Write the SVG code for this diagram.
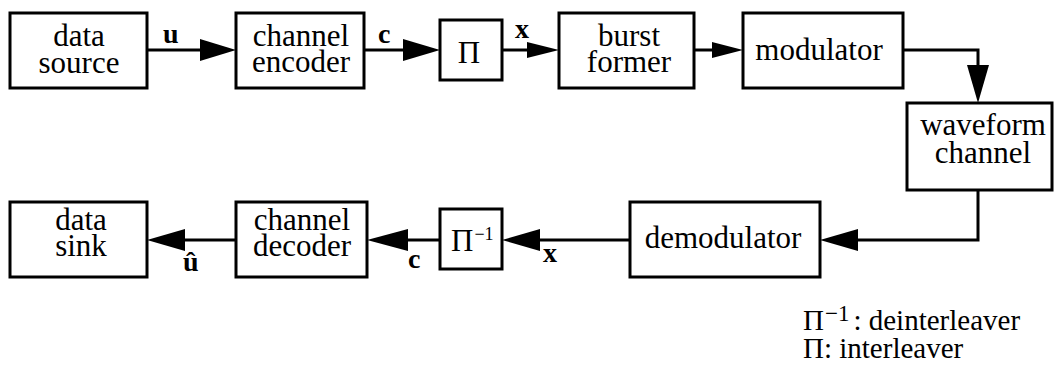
<svg xmlns="http://www.w3.org/2000/svg" width="1054" height="368" viewBox="0 0 1054 368">
  <style>
    .box { fill: #fff; stroke: #000; stroke-width: 3; }
    .wire { fill: none; stroke: #000; stroke-width: 3; }
    .head { fill: #000; stroke: none; }
    text { font-family: 'Liberation Serif', 'DejaVu Serif', serif; fill: #000; }
    .lbl { font-size: 31px; text-anchor: middle; }
    .sym { font-size: 31px; text-anchor: start; }
    .sig { font-size: 28px; font-weight: bold; }
    .key { font-size: 29px; }
  </style>
  <rect width="1054" height="368" fill="#fff"/>

  <!-- connectors -->
  <g id="connectors">
    <line class="wire" x1="147" y1="50" x2="202" y2="50"/>
    <polygon class="head" points="200,39 236,50 200,61"/>
    <line class="wire" x1="364" y1="50" x2="405" y2="50"/>
    <polygon class="head" points="403,39 440,50 403,61"/>
    <line class="wire" x1="502" y1="50" x2="529" y2="50"/>
    <polygon class="head" points="527,42 559,50 527,58"/>
    <line class="wire" x1="694" y1="50" x2="714" y2="50"/>
    <polygon class="head" points="712,42 743,50 712,58"/>
    <path class="wire" d="M903,50 H978 V67"/>
    <polygon class="head" points="967,65 978,103 989,65"/>
    <path class="wire" d="M978,190 V240 H856"/>
    <polygon class="head" points="858,229 820,240 858,251"/>
    <line class="wire" x1="630" y1="240" x2="538" y2="240"/>
    <polygon class="head" points="540,229 502,240 540,251"/>
    <line class="wire" x1="440" y1="240" x2="406" y2="240"/>
    <polygon class="head" points="408,229 367,240 408,251"/>
    <line class="wire" x1="236" y1="240" x2="183" y2="240"/>
    <polygon class="head" points="185,229 147,240 185,251"/>
    <!-- signal labels -->
    <text class="sig" x="163" y="43">u</text>
    <text class="sig" x="378" y="43">c</text>
    <text class="sig" x="515" y="38">x</text>
    <text class="sig" x="183" y="271">û</text>
    <text class="sig" x="408" y="268">c</text>
    <text class="sig" x="543" y="262">x</text>
  </g>

  <g id="data-source">
    <rect class="box" x="10" y="13" width="137" height="75"/>
    <text class="lbl" x="79" y="46">data</text>
    <text class="lbl" x="79" y="73">source</text>
  </g>
  <g id="channel-encoder">
    <rect class="box" x="236" y="13" width="128" height="75"/>
    <text class="lbl" x="301" y="46">channel</text>
    <text class="lbl" x="301" y="72">encoder</text>
  </g>
  <g id="interleaver">
    <rect class="box" x="440" y="20" width="62" height="60"/>
    <text class="lbl" x="469" y="63">Π</text>
  </g>
  <g id="burst-former">
    <rect class="box" x="559" y="13" width="135" height="75"/>
    <text class="lbl" x="629" y="46">burst</text>
    <text class="lbl" x="629" y="72">former</text>
  </g>
  <g id="modulator">
    <rect class="box" x="743" y="13" width="160" height="75"/>
    <text class="lbl" x="819" y="60">modulator</text>
  </g>
  <g id="waveform-channel">
    <rect class="box" x="907" y="103" width="145" height="87"/>
    <text class="lbl" x="983" y="135">waveform</text>
    <text class="lbl" x="983" y="163">channel</text>
  </g>
  <g id="demodulator">
    <rect class="box" x="630" y="202" width="190" height="75"/>
    <text class="lbl" x="723" y="248">demodulator</text>
  </g>
  <g id="deinterleaver">
    <rect class="box" x="440" y="209" width="62" height="60"/>
    <text class="sym" x="451" y="251">Π<tspan font-size="18" dx="1" dy="-11">−1</tspan></text>
  </g>
  <g id="channel-decoder">
    <rect class="box" x="236" y="202" width="131" height="75"/>
    <text class="lbl" x="302" y="230">channel</text>
    <text class="lbl" x="302" y="256">decoder</text>
  </g>
  <g id="data-sink">
    <rect class="box" x="10" y="202" width="137" height="75"/>
    <text class="lbl" x="81" y="230">data</text>
    <text class="lbl" x="81" y="256">sink</text>
  </g>

  <!-- legend -->
  <g id="legend">
    <text class="key" x="803" y="330">Π<tspan font-size="23" dx="1" dy="-9">−1</tspan><tspan dx="4" dy="9">: deinterleaver</tspan></text>
    <text class="key" x="803" y="358">Π: interleaver</text>
  </g>
</svg>
